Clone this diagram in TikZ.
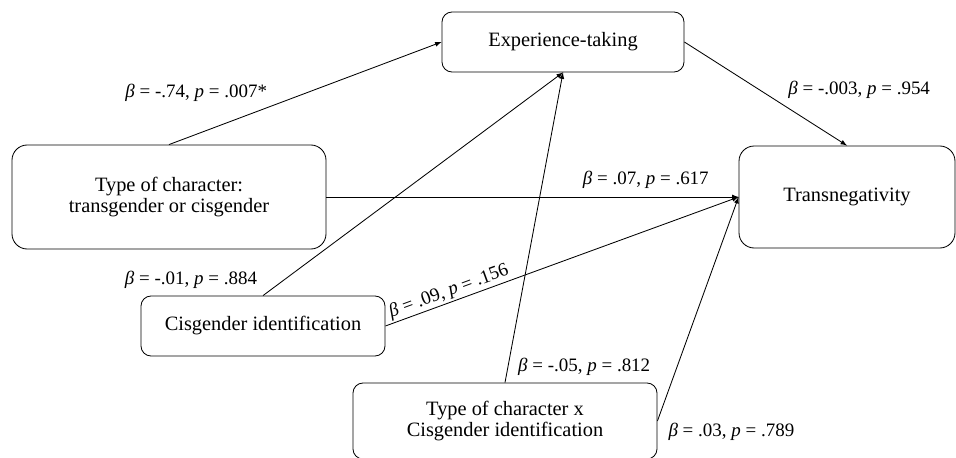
\documentclass[tikz,border=0pt]{standalone}
\usepackage{fontspec}
\setmainfont{Liberation Serif}
\usepackage{tikz}
\usetikzlibrary{arrows, automata}

\begin{document}
\begin{tikzpicture}[>= latex, shorten >= 0pt,
                    node distance=4.5cm, semithick,
                    font=\fontsize{14.5}{15.5}\selectfont]
\tikzstyle{every state}=[shape=rectangle, draw=black, rounded corners=0.25cm,
                    semithick, inner sep=1pt, align=center]
\tikzstyle{big}=[rounded corners=0.38cm]
\tikzstyle{coef}=[font=\fontsize{13.5}{14}\selectfont, inner sep=1pt]
  \useasboundingbox (-4.225,-6.5) rectangle (19.675,4.925);
  \node[state, big] (TC) [minimum width=7.85cm, minimum height=2.6cm] {Type of character:\\transgender or cisgender};
  \node[state, big] (TN) [right of=TC, node distance=16.95cm, minimum width=5.4cm, minimum height=2.55cm] {Transnegativity};
  \node[state] (ET)  [right of=TC, node distance=9.85cm, yshift=3.875cm, minimum width=6.05cm, minimum height=1.5cm] {Experience-taking};
  \node[state] (CI)  [below of=TC, node distance=3.225cm, xshift=2.35cm, minimum width=6.1cm, minimum height=1.5cm] {Cisgender identification};
  \node[state] (TxC) [below of=CI, node distance=2.375cm, xshift=6.05cm, minimum width=7.6cm, minimum height=1.9cm] {Type of character x\\Cisgender identification};
  \path[->] (TC.north)  edge node[coef, pos=0.1, yshift=1.03cm] (b1) {{\itshape β} = -.74, {\itshape p} = .007*} (ET.west);
  \path[->] (ET.east)   edge node[coef, pos=0.46, xshift=2.5cm] (b2) {{\itshape β} = -.003, {\itshape p} = .954} (TN.north);
  \path[->] (TC.east)   edge node[coef, pos=0.775, yshift=0.43cm] (b3) {{\itshape β} = .07, {\itshape p} = .617} (TN.west);
  \path[->] (CI.north)  edge node[coef, pos=0, xshift=-1.8cm, yshift=0.4cm] (b4) {{\itshape β} = -.01, {\itshape p} = .884} (ET.south);
  \path[->] (CI.east)   edge node[coef, pos=0.19, sloped, above] (b5) {{\itshape β} = .09, {\itshape p} = .156} (TN.west);
  \path[->] (TxC.north) edge node[coef, pos=0, xshift=1.98cm, yshift=0.4cm] (b6) {{\itshape β} = -.05, {\itshape p} = .812} (ET.south);
  \path[->] (TxC.east)  edge node[coef, pos=0, xshift=1.85cm, yshift=-0.28cm] (b7) {{\itshape β} = .03, {\itshape p} = .789} (TN.west);
\end{tikzpicture}
\end{document}
